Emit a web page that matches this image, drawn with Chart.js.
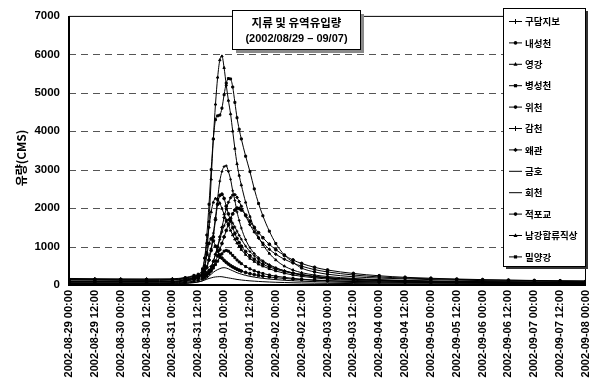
<!DOCTYPE html>
<html><head><meta charset="utf-8">
<script src="https://cdn.jsdelivr.net/npm/chart.js@4"></script>
<style>html,body{margin:0;padding:0;background:#fff;}#wrap{width:593px;height:387px;position:relative;}</style>
</head><body><div id="wrap"><canvas id="c" width="593" height="387"></canvas></div>
<script>
// hours since 2002-08-29 00:00
const hours = [0,12,24,36,48, 54,58,60,62,
  63,64,65,66,67,68,69,70,71,72,73,74,75,76,77,78,79,80,
  82,84,86,88,90, 93,96,100,104,108, 114,120,
  132,144,156,168,180,192,204,216,228,240];

const xTickLabels = [
  "2002-08-29 00:00","2002-08-29 12:00","2002-08-30 00:00","2002-08-30 12:00",
  "2002-08-31 00:00","2002-08-31 12:00","2002-09-01 00:00","2002-09-01 12:00",
  "2002-09-02 00:00","2002-09-02 12:00","2002-09-03 00:00","2002-09-03 12:00",
  "2002-09-04 00:00","2002-09-04 12:00","2002-09-05 00:00","2002-09-05 12:00",
  "2002-09-06 00:00","2002-09-06 12:00","2002-09-07 00:00","2002-09-07 12:00",
  "2002-09-08 00:00"];
const yTicks = [0,1000,2000,3000,4000,5000,6000,7000];

const seriesNames = ["구담지보","내성천","영강","병성천","위천","감천","왜관","금호","회천","적포교","남강합류직상","밀양강"];

const gudam = [80,78,75,74,78, 110,140,160,200,
  240,300,380,480,620,790,980,1180,1380,1540,1650,1700,1680,1610,1510,1400,1290,1190,
  1010,870,760,670,600, 510,440,370,315,275, 225,190,
  150,125,108,96,88,81,76,71,67,63];
const naeseong = [50,48,46,45,50, 90,150,200,320,
  500,800,1080,1200,1150,1010,880,780,700,640,590,545,505,470,440,410,385,362,
  325,295,270,250,232, 210,190,170,153,140, 122,108,
  90,78,70,64,59,55,52,49,46,44];
const yeonggang = [60,58,55,55,60, 120,180,220,400,
  700,1100,1500,1900,2150,2250,2220,2130,1990,1840,1690,1550,1420,1300,1190,1090,1000,920,
  790,690,610,540,490, 420,365,305,260,225, 185,155,
  120,100,88,78,70,65,60,56,52,50];
const byeongseong = [40,38,36,35,40, 70,100,120,160,
  190,230,290,360,440,530,620,720,810,880,900,880,830,770,710,650,600,555,
  480,420,370,330,300, 260,230,198,172,152, 130,113,
  92,80,71,65,60,56,52,49,46,44];
const wicheon = [90,88,85,83,88, 140,200,230,280,
  350,450,650,900,1250,1700,2100,2330,2360,2250,2050,1850,1660,1490,1340,1210,1100,1010,
  870,760,670,600,540, 470,410,350,300,260, 215,185,
  145,120,105,95,85,80,75,70,66,62];
const gamcheon = [100,95,92,90,95, 130,160,180,300,
  400,480,750,950,1350,1750,2250,2700,2950,3080,3100,2950,2750,2450,2200,1900,1680,1480,
  1180,970,820,710,630, 530,450,370,310,265, 215,185,
  145,120,105,92,84,78,72,68,64,60];
const waegwan = [170,165,160,158,162, 190,220,240,260,
  280,320,380,480,620,800,1000,1250,1500,1750,1980,2150,2270,2340,2350,2280,2170,2050,
  1800,1570,1380,1220,1090, 930,800,670,570,490, 400,340,
  260,210,180,160,145,132,122,114,108,102];
const geumho = [30,30,29,28,30, 50,70,80,110,
  140,180,230,280,330,370,400,425,445,450,440,420,395,370,345,320,300,282,
  250,225,205,188,173, 155,140,123,110,99, 87,78,
  65,57,51,47,44,41,39,37,35,34];
const hoecheon = [20,20,19,19,20, 40,60,80,110,
  130,150,170,185,200,210,215,218,215,205,195,185,175,165,155,145,138,130,
  118,108,100,92,86, 78,71,64,58,53, 47,43,
  37,33,30,28,26,25,24,23,22,21];
const jeokpo = [140,138,135,133,138, 160,180,200,230,
  250,280,330,400,500,620,760,920,1080,1250,1420,1580,1730,1850,1950,2000,1990,1950,
  1820,1660,1500,1360,1230, 1060,920,770,650,560, 460,390,
  300,240,200,175,155,140,128,118,110,104];
const namgang = [130,125,120,118,125, 170,230,260,320,
  450,850,1650,2750,3800,4700,5400,5850,5950,5650,5200,4800,4450,4000,3550,3150,2850,2600,
  2150,1780,1480,1240,1050, 820,650,490,390,320, 260,220,
  170,140,120,105,95,88,82,78,74,70];
const miryang = [150,145,140,138,145, 190,250,280,420,
  700,1300,2100,3000,3800,4300,4400,4420,4600,4950,5250,5370,5360,5150,4750,4350,4050,3800,
  3350,2950,2500,2120,1800, 1400,1080,780,590,440, 340,280,
  215,180,160,140,125,115,105,98,92,88];

const seriesValues = [gudam,naeseong,yeonggang,byeongseong,wicheon,gamcheon,waegwan,geumho,hoecheon,jeokpo,namgang,miryang];
const markerStyles = ['cross','circle','triangle','rect','circle','cross','rectRot',null,null,'circle','triangle','rect'];

const datasets = seriesNames.map((name,i)=>({
  label: name,
  data: seriesValues[i].map((v,j)=>({x:hours[j], y:v})),
  borderColor:'#000',
  backgroundColor:'#000',
  borderWidth:1,
  pointStyle: markerStyles[i] || 'circle',
  pointRadius: markerStyles[i] ? 1.4 : 0,
  pointBackgroundColor:'#000',
  pointBorderColor:'#000',
  pointBorderWidth:1,
  cubicInterpolationMode:'monotone',
  fill:false
}));

const NUM = '"Liberation Sans", Arial, sans-serif';
const KR = '"Noto Sans CJK KR", "Liberation Sans", sans-serif';

function drawMarker(ctx, style, x, y){
  ctx.beginPath();
  if (style==='circle'){ ctx.arc(x,y,1.8,0,Math.PI*2); ctx.fill(); }
  else if (style==='cross'){ ctx.moveTo(x,y-2.5); ctx.lineTo(x,y+2.5); ctx.stroke(); }
  else if (style==='triangle'){ ctx.moveTo(x,y-2.2); ctx.lineTo(x+2,y+1.5); ctx.lineTo(x-2,y+1.5); ctx.closePath(); ctx.fill(); }
  else if (style==='rect'){ ctx.rect(x-1.6,y-1.6,3.2,3.2); ctx.fill(); }
  else if (style==='rectRot'){ ctx.moveTo(x,y-2.2); ctx.lineTo(x+2.2,y); ctx.lineTo(x,y+2.2); ctx.lineTo(x-2.2,y); ctx.closePath(); ctx.fill(); }
}

const deco = {
  id:'deco',
  beforeDatasetsDraw(chart){
    const {ctx, chartArea:a, scales:{y}} = chart;
    ctx.save();
    ctx.strokeStyle = '#555';
    ctx.lineWidth = 1;
    ctx.setLineDash([7,5]);
    yTicks.forEach(v=>{
      if (v===0 || v===7000) return;
      const py = Math.round(y.getPixelForValue(v))+0.5;
      ctx.beginPath(); ctx.moveTo(a.left, py); ctx.lineTo(a.right, py); ctx.stroke();
    });
    ctx.setLineDash([]);
    ctx.strokeStyle = '#000';
    ctx.lineWidth = 1;
    ctx.beginPath();
    ctx.moveTo(a.left, a.top+0.5); ctx.lineTo(a.right, a.top+0.5);
    ctx.moveTo(a.right-0.5, a.top); ctx.lineTo(a.right-0.5, a.bottom);
    ctx.stroke();
    ctx.lineWidth = 2;
    ctx.beginPath();
    ctx.moveTo(a.left, a.top); ctx.lineTo(a.left, a.bottom); ctx.lineTo(a.right, a.bottom);
    ctx.stroke();
    ctx.restore();
  },
  afterDraw(chart){
    const {ctx} = chart;
    ctx.save();
    ctx.translate(21, 158);
    ctx.rotate(-Math.PI/2);
    ctx.fillStyle = '#000';
    ctx.font = 'bold 12px ' + KR;
    ctx.textAlign = 'center';
    ctx.textBaseline = 'middle';
    ctx.fillText('유량(CMS)', 0, 0);
    ctx.restore();

    ctx.save();
    ctx.fillStyle = '#8a8a8a';
    ctx.fillRect(236, 14, 128, 39);
    ctx.fillStyle = '#fff';
    ctx.fillRect(232, 10, 128, 39);
    ctx.strokeStyle = '#000'; ctx.lineWidth = 1;
    ctx.strokeRect(232.5, 10.5, 128, 39);
    ctx.fillStyle = '#000';
    ctx.textAlign = 'center'; ctx.textBaseline = 'middle';
    ctx.font = 'bold 11.5px ' + KR;
    ctx.fillText('지류 및 유역유입량', 296.5, 23);
    ctx.font = 'bold 11px ' + NUM;
    ctx.fillText('(2002/08/29 \u2013 09/07)', 296.5, 39);
    ctx.restore();

    ctx.save();
    const lx = 503, ly = 8, lw = 82, lh = 258;
    ctx.fillStyle = '#333';
    ctx.fillRect(lx+3, ly+3, lw, lh);
    ctx.fillStyle = '#fff';
    ctx.fillRect(lx, ly, lw, lh);
    ctx.strokeStyle = '#000'; ctx.lineWidth = 1;
    ctx.strokeRect(lx+0.5, ly+0.5, lw, lh);
    chart.data.datasets.forEach((ds,i)=>{
      const cy = 21 + i*21.4;
      ctx.strokeStyle = '#000'; ctx.fillStyle = '#000'; ctx.lineWidth = 1;
      ctx.beginPath(); ctx.moveTo(509, cy+0.5); ctx.lineTo(522, cy+0.5); ctx.stroke();
      if (markerStyles[i]) drawMarker(ctx, markerStyles[i], 515.5, cy+0.5);
      ctx.font = 'bold 9.5px ' + KR;
      ctx.textAlign = 'left'; ctx.textBaseline = 'middle';
      ctx.fillText(ds.label, 525, cy+0.5);
    });
    ctx.restore();
  }
};

new Chart(document.getElementById('c'), {
  type:'line',
  data:{ datasets },
  options:{
    responsive:false,
    animation:false,
    events:[],
    layout:{ padding:{ top:8, right:7, left:0, bottom:0 } },
    plugins:{ legend:{display:false}, tooltip:{enabled:false}, title:{display:false} },
    scales:{
      x:{
        type:'linear', min:0, max:240,
        grid:{ display:false, drawTicks:false },
        border:{ display:false },
        ticks:{
          stepSize:12, autoSkip:false, maxRotation:90, minRotation:90, padding:5,
          color:'#000', font:{ family:NUM, size:11, weight:'bold' },
          callback:(v)=> xTickLabels[Math.round(v/12)] ?? ''
        },
        afterFit(s){ s.height = 102; s.paddingLeft = 0; s.paddingRight = 0; }
      },
      y:{
        min:0, max:7000,
        grid:{ display:false, drawTicks:false },
        border:{ display:false },
        ticks:{
          stepSize:1000, padding:9, color:'#000',
          font:{ family:NUM, size:11.5, weight:'bold' },
          callback:(v)=> String(v)
        },
        afterFit(s){ s.width = 69; }
      }
    }
  },
  plugins:[deco]
});
</script>
</body></html>
